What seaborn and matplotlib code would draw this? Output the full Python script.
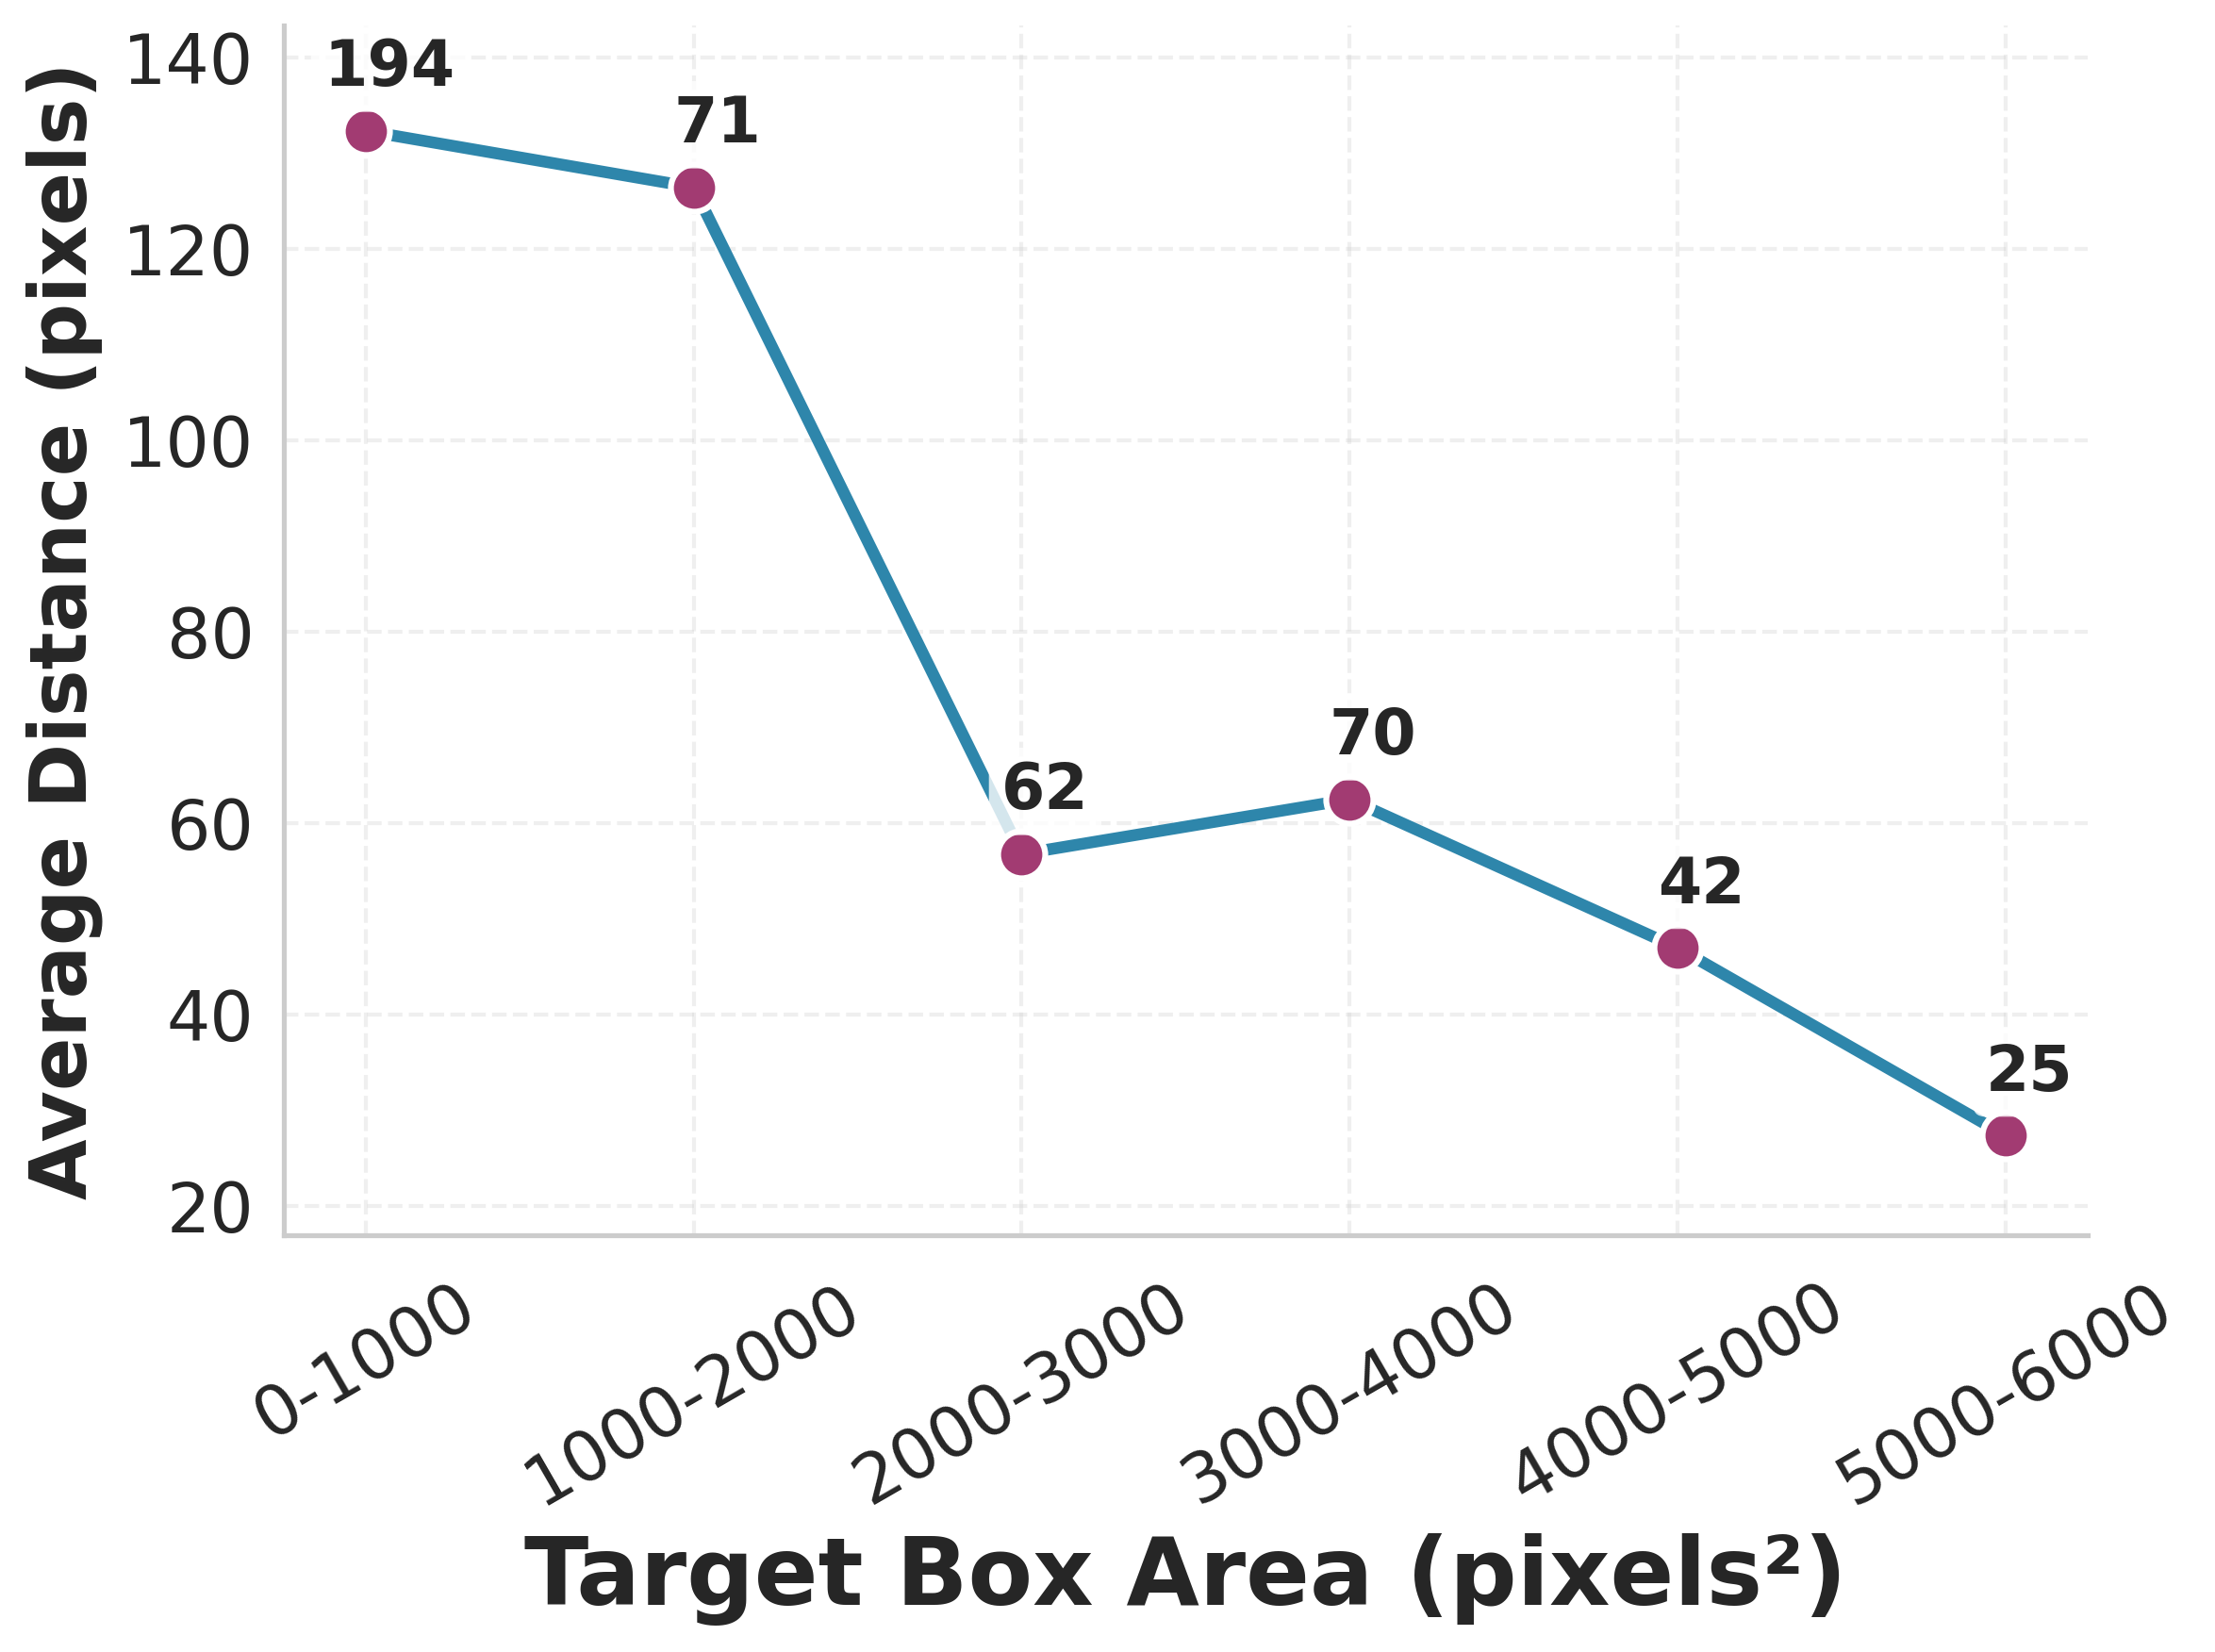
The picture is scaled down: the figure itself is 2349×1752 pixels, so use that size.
import matplotlib
matplotlib.use("Agg")
import matplotlib.pyplot as plt
import seaborn as sns
import pandas as pd

categories = ["0-1000", "1000-2000", "2000-3000", "3000-4000", "4000-5000", "5000-6000"]
avg_distance = [132.3, 126.4, 56.8, 62.5, 47.0, 27.4]
counts = [194, 71, 62, 70, 42, 25]

df = pd.DataFrame({"area": categories, "dist": avg_distance, "n": counts})

sns.set_theme(style="whitegrid")
plt.rcParams["font.family"] = ["DejaVu Sans"]

fig = plt.figure(figsize=(2349 / 300, 1752 / 300), dpi=300)
ax = fig.add_axes([0.128, 0.2523, 0.8145, 0.7323])

sns.lineplot(data=df, x="area", y="dist", ax=ax, color="#2E86AB", linewidth=3,
             marker="o", markersize=12, markerfacecolor="#A23B72",
             markeredgecolor="white", markeredgewidth=1.5, sort=False)

for i, (c, v, n) in enumerate(zip(categories, avg_distance, counts)):
    ax.annotate(f"{n}", xy=(i, v), xytext=(6, 8), textcoords="offset points",
                ha="center", va="bottom", fontsize=16, fontweight="bold", color="#262626",
                bbox=dict(boxstyle="round,pad=0.2", fc="white", ec="none", alpha=0.8))

ax.set_xlim(-0.25, 5.25)
ax.set_ylim(17.0, 143.3)
ax.set_yticks([20, 40, 60, 80, 100, 120, 140])
ax.grid(True, linestyle="--", alpha=0.3)
ax.tick_params(axis="x", labelsize=17.5, rotation=30)
ax.tick_params(axis="y", labelsize=17.5, pad=1.5)
for lab in ax.get_xticklabels():
    lab.set_ha("center")
ax.set_xlabel("Target Box Area (pixels²)", fontsize=24, fontweight="bold", labelpad=4)
ax.set_ylabel("Average Distance (pixels)", fontsize=20, fontweight="bold", labelpad=5)
sns.despine(ax=ax)
for s in ["left", "bottom"]:
    ax.spines[s].set_color("#cccccc")

fig.savefig("out.png", dpi=300)
